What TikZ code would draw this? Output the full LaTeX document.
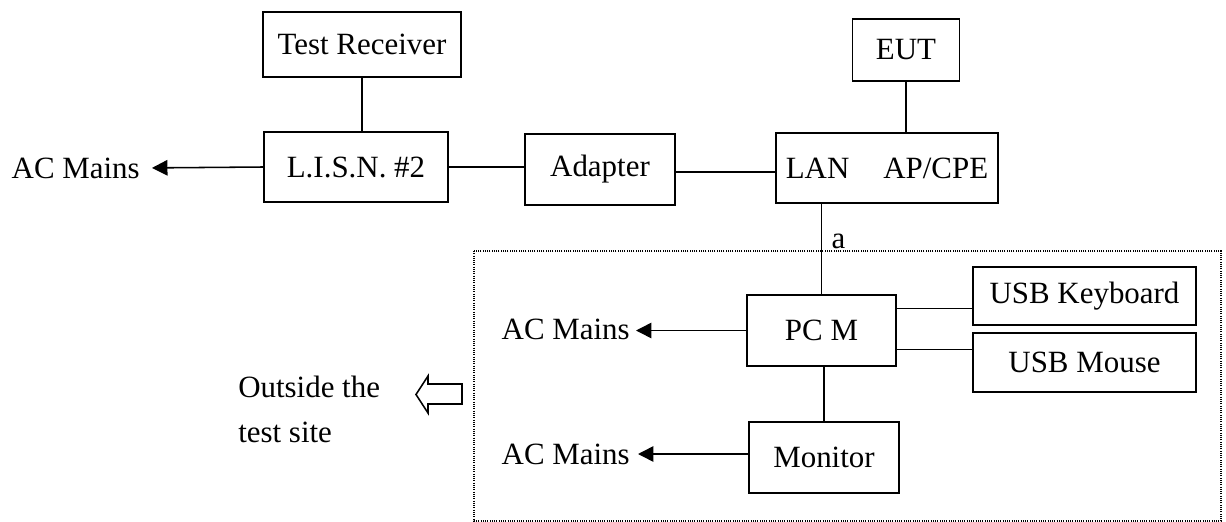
\documentclass[tikz,border=0pt]{standalone}
\usepackage{fontspec}
\setmainfont{Liberation Serif}
\usetikzlibrary{arrows.meta,calc}

\begin{document}
\begin{tikzpicture}[>={Triangle[length=11pt,width=11pt]}, x=0.25cm, y=-0.25cm,
  every node/.style={font=\fontsize{22}{32}\selectfont, inner sep=0pt},
  box/.style={draw, line width=1.4pt},
  wire/.style={line width=1.1pt}]
\useasboundingbox (0,0) rectangle (122.6,52.2);

% test site boundary
\draw[line width=0.8pt, dash pattern=on 0.7pt off 0.9pt] (47.4,25.1) rectangle (122.1,52.1);

% equipment
\node[box, minimum width=4.95cm, minimum height=1.625cm] (rec) at (36.2,4.45) {Test Receiver};
\node[box, minimum width=4.6cm, minimum height=1.75cm] (lisn) at (35.6,16.7) {L.I.S.N. \#2};
\node[box, minimum width=3.75cm, minimum height=1.775cm] (adapter) at (60.0,16.95) {Adapter};
\node[box, minimum width=5.55cm, minimum height=1.75cm] (lan) at (88.7,16.8) {LAN\hspace{1.1em}AP/CPE};
\node[box, minimum width=2.675cm, minimum height=1.55cm] (eut) at (90.6,5.0) {EUT};
\node[box, minimum width=3.725cm, minimum height=1.775cm] (pc) at (82.15,33.05) {PC M};
\node[box, minimum width=5.575cm, minimum height=1.45cm] (kbd) at (108.45,29.6) {USB Keyboard};
\node[box, minimum width=5.575cm, minimum height=1.475cm] (mouse) at (108.45,36.25) {USB Mouse};
\node[box, minimum width=3.75cm, minimum height=1.775cm] (mon) at (82.4,45.75) {Monitor};

% mains outlets
\node[anchor=east] (acA) at (14.0,16.8) {AC Mains};
\node[anchor=east] (acB) at (63.0,32.9) {AC Mains};
\node[anchor=east] (acC) at (63.0,45.4) {AC Mains};

\node[anchor=base] (cablea) at (83.85,24.85) {a};
\node[anchor=north west, align=left] (outside) at (23.8,37.6) {Outside the\\test site};

% cabling
\draw[wire] (rec.south) -- (rec.south |- lisn.north);
\draw[wire] (lisn.east) -- (lisn.east -| adapter.west);
\draw[wire] (adapter.east) ++(0,0.25) coordinate (ad1) -- (ad1 -| lan.west);
\draw[wire] (eut.south) -- (eut.south |- lan.north);
\draw[wire] (pc.north) -- (pc.north |- lan.south);
\coordinate (k1) at ($(pc.north east)!0.2!(pc.south east)$);
\coordinate (m1) at ($(pc.north east)!0.76!(pc.south east)$);
\draw[wire] (k1) -- (k1 -| kbd.west);
\draw[wire] (m1) -- (m1 -| mouse.west);
\draw[wire] (mon.north) -- (mon.north |- pc.south);

\draw[wire, ->, shorten >=0.3cm] (lisn.west) -- (acA.east);
\draw[wire, ->, shorten >=0.15cm] (pc.west) -- (pc.west -| acB.east);
\draw[wire, ->, shorten >=0.2cm] (acC.east -| mon.west) -- (acC.east);

% hollow arrow pointing out of the site
\draw[line width=1.1pt] (46.2,38.4) -- (42.8,38.4) -- (42.8,37.6) -- (41.6,39.45)
  -- (42.8,41.3) -- (42.8,40.4) -- (46.2,40.4) -- cycle;
\end{tikzpicture}
\end{document}
